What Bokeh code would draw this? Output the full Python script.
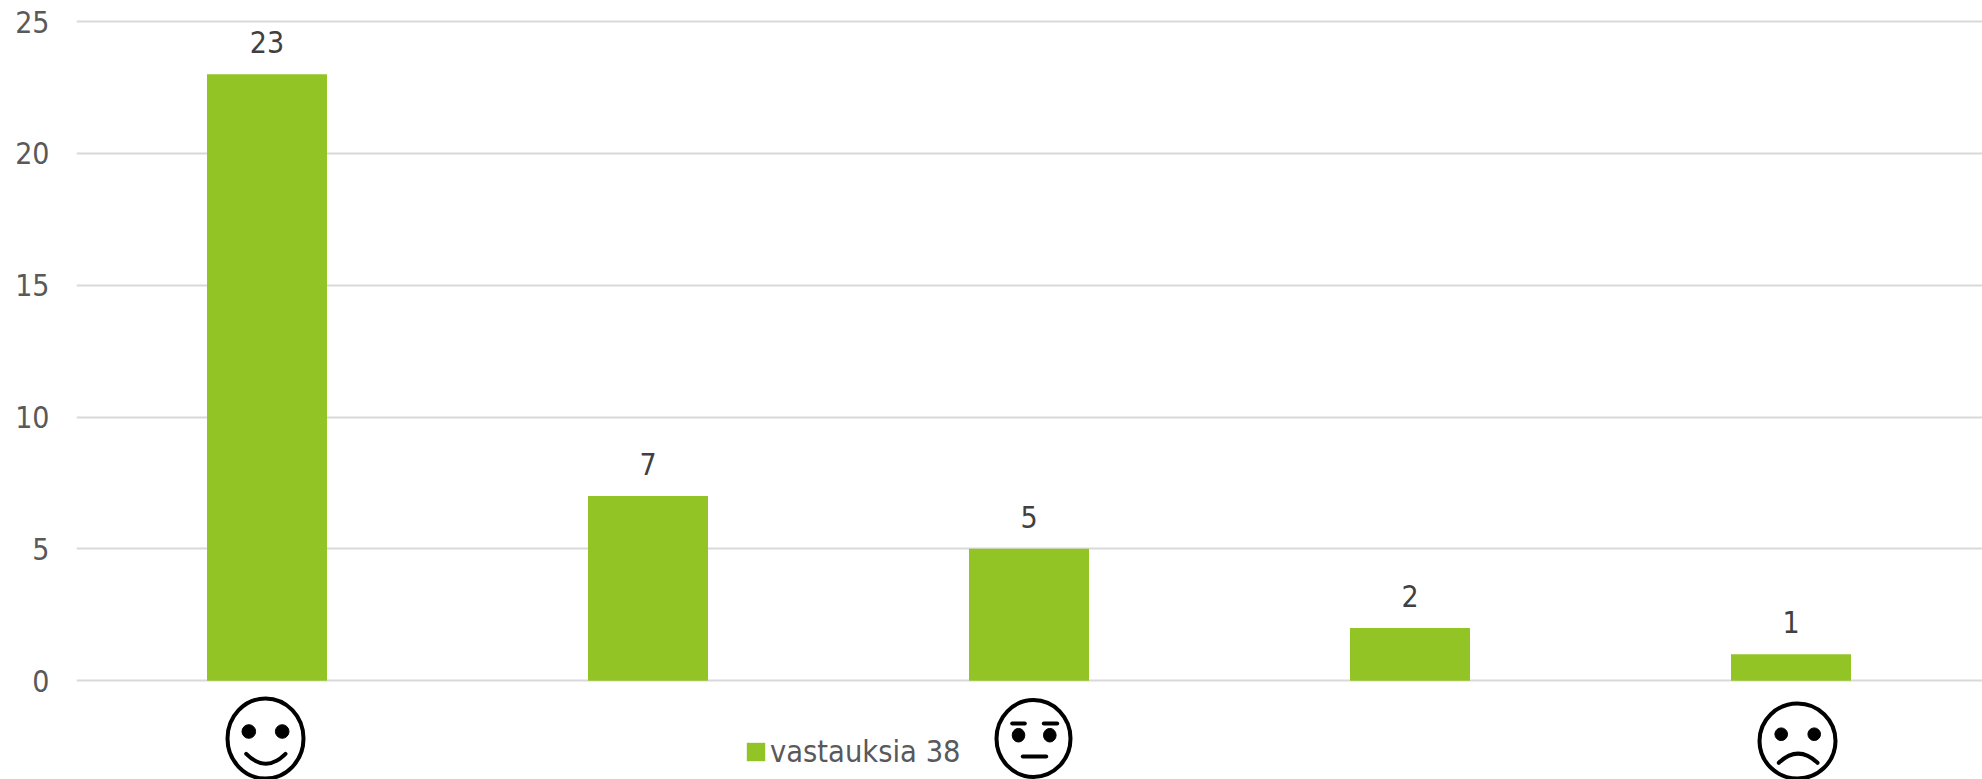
from bokeh.plotting import figure
from bokeh.models import ColumnDataSource, Range1d, FixedTicker, Legend, LegendItem
from bokeh.core.properties import value
from bokeh.embed import file_html
from bokeh.resources import INLINE

categories = ["erittäin hyvä", "hyvä", "neutraali", "huono", "erittäin huono"]
answers = [23, 7, 5, 2, 1]
y_ticks = [0, 5, 10, 15, 20, 25]
legend_label = "vastauksia 38"

FONT = "DejaVu Sans Condensed"
GREEN = "#93C426"
GRID = "#D9D9D9"
W, H = 1982, 779
LEFT = 76
STEP = 381.0
PAGE_LEFT, PAGE_TOP = LEFT, 0
PAGE_BOTTOM = PAGE_TOP + H
Y25, Y0 = 21.0, 680.2
UNIT = (Y0 - Y25) / 25

p = figure(width=W, height=H, output_backend="svg", toolbar_location=None,
           x_range=Range1d(0, (W - LEFT) / STEP),
           y_range=Range1d((Y0 - PAGE_BOTTOM) / UNIT, (Y0 - PAGE_TOP) / UNIT),
           min_border_left=LEFT, min_border_right=0, min_border_top=0, min_border_bottom=0,
           outline_line_color=None)
p.extra_x_ranges["page"] = Range1d(PAGE_LEFT, W)
p.extra_y_ranges["page"] = Range1d(PAGE_BOTTOM, PAGE_TOP)

p.xaxis.visible = False
p.xgrid.visible = False
ax = p.yaxis[0]
ax.ticker = FixedTicker(ticks=y_ticks)
ax.axis_line_color = None
ax.major_tick_line_color = None
ax.minor_tick_line_color = None
ax.major_label_standoff = 21
ax.major_label_text_font = FONT
ax.major_label_text_font_size = "30px"
ax.major_label_text_color = "#595959"
p.ygrid[0].ticker = FixedTicker(ticks=y_ticks)
p.ygrid.grid_line_color = GRID
p.ygrid.grid_line_width = 2

centers = [i + 0.5 for i in range(len(categories))]
src = ColumnDataSource(dict(x=centers, category=categories, top=answers, label=[str(v) for v in answers]))
bars = p.vbar(x="x", top="top", bottom=0, width=120 / STEP, source=src, color=GREEN, line_color=None)
p.text(x="x", y="top", text="label", source=src, y_offset=-32, text_align="center",
       text_baseline="middle", text_font=value(FONT), text_font_size="30px", text_color="#404040")

legend = Legend(items=[LegendItem(label=legend_label, renderers=[bars])],
                location=(668, 10), orientation="horizontal", background_fill_alpha=0,
                border_line_color=None, padding=0, margin=0, spacing=0,
                glyph_width=23, glyph_height=23, label_standoff=3,
                label_text_font=FONT, label_text_font_size="30.5px", label_text_color="#595959")
p.add_layout(legend, "center")

# Smiley decorations below the axis, placed in page pixels
KW = dict(x_range_name="page", y_range_name="page")
def face(cx, cy, rx, ry):
    p.ellipse(x=[cx], y=[cy], width=[2 * rx], height=[2 * ry], fill_color="white",
              line_color="black", line_width=4, **KW)
def eyes(xs, y, rx, ry):
    p.ellipse(x=xs, y=[y, y], width=[2 * rx] * 2, height=[2 * ry] * 2, color="black", **KW)
def stroke(x0, x1, y):
    p.segment(x0=[x0], y0=[y], x1=[x1], y1=[y], line_color="black", line_width=4, line_cap="round", **KW)
def curve(x0, x1, y, cy):
    p.quadratic(x0=[x0], y0=[y], x1=[x1], y1=[y], cx=[(x0 + x1) / 2], cy=[cy], line_color="black",
                line_width=4, line_cap="round", **KW)

face(265, 738, 38, 40)
eyes([248.3, 281.7], 731, 6.8, 6.8)
curve(245.7, 285, 753.3, 773)

face(1033, 738, 37, 38.5)
eyes([1018, 1049.3], 734.7, 6.3, 6.8)
stroke(1011.7, 1024.3, 723)
stroke(1043.3, 1056.7, 723)
stroke(1022.3, 1045.7, 756)

face(1797, 740.5, 38, 37.5)
eyes([1780.7, 1813.7], 733.7, 6.3, 6.3)
curve(1778.3, 1817, 762.3, 744)

open("out.html", "w").write(file_html(p, INLINE))
